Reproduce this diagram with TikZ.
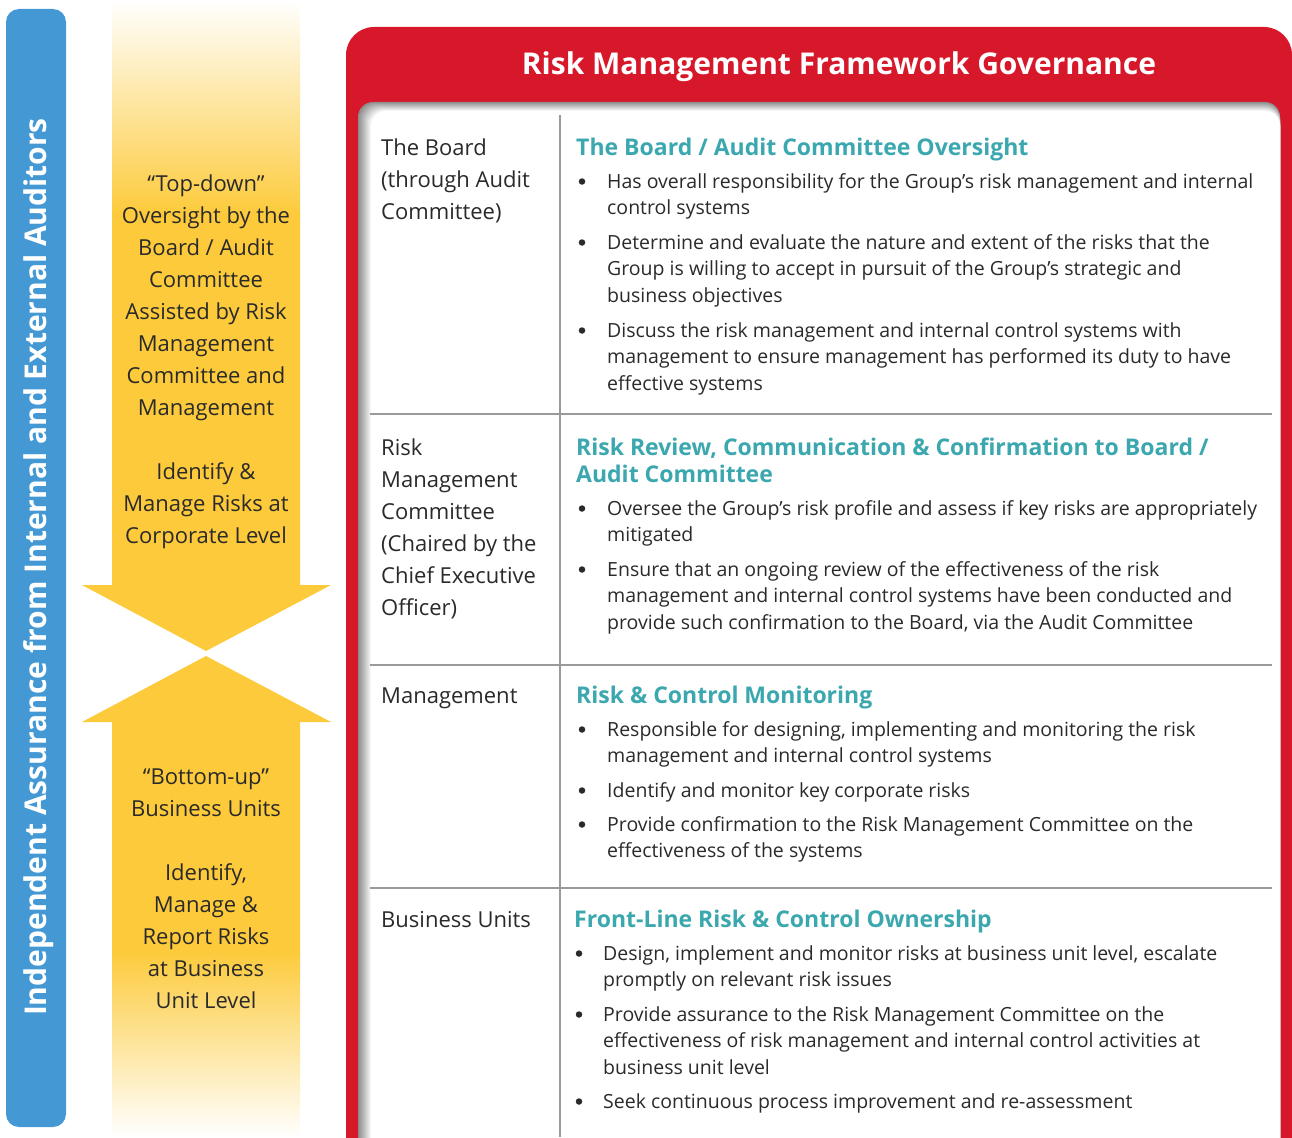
\documentclass[tikz,border=0pt]{standalone}
\usepackage{fontspec}
\setmainfont{Open Sans}
\definecolor{bluebar}{HTML}{4499D5}
\definecolor{ylw}{HTML}{FCCA3A}
\definecolor{redf}{HTML}{D7182A}
\definecolor{teal}{HTML}{3BA7AF}
\definecolor{txt}{HTML}{2A2A2A}
\definecolor{divg}{HTML}{9A9A9A}
\tikzset{
  body/.style={anchor=base west, inner sep=0pt, align=left, text=txt, font=\fontsize{19.5}{26.7}\selectfont},
  bul/.style={circle, fill=txt, inner sep=0pt, minimum size=6.5pt},
  lcol/.style={anchor=base west, inner sep=0pt, align=left, text=txt, font=\fontsize{22}{32}\selectfont},
  head/.style={anchor=base west, inner sep=0pt, align=left, text=teal, font=\fontsize{23}{27}\selectfont\bfseries},
  ytext/.style={anchor=base, inner sep=0pt, align=center, text=txt, font=\fontsize{22}{32}\selectfont},
  divline/.style={draw=divg, line width=1.6pt}
}
\begin{document}
\begin{tikzpicture}[x=1pt,y=-1pt]
\useasboundingbox (0,0) rectangle (1292,1137);
\clip (0,0) rectangle (1292,1137);
% blue bar
\fill[bluebar, rounded corners=13pt] (6,9) rectangle (66,1127);
\node[rotate=90, text=white, font=\fontsize{30}{34}\selectfont\bfseries, inner sep=0pt] (bluetxt) at (39,567) {Independent Assurance from Internal and External Auditors};
% yellow arrows
\shade[top color=white, bottom color=ylw] (112,0) rectangle (300,215);
\fill[ylw] (112,214) -- (300,214) -- (300,585) -- (331,585) -- (206,651) -- (82,585) -- (112,585) -- cycle;
\fill[ylw] (206,656) -- (331,722) -- (300,722) -- (300,951) -- (112,951) -- (112,722) -- (82,722) -- cycle;
\shade[top color=ylw, bottom color=white] (112,950) rectangle (300,1137);
% (base anchor = baseline of last line)
\node[ytext] (ytop) at (206,543) {“Top-down”\\Oversight by the\\Board / Audit\\Committee\\Assisted by Risk\\Management\\Committee and\\Management\\[32pt]Identify \&\\Manage Risks at\\Corporate Level};
\node[ytext] (ybot) at (206,1008) {“Bottom-up”\\Business Units\\[32pt]Identify,\\Manage \&\\Report Risks\\at Business\\Unit Level};
% red frame
\fill[redf, rounded corners=28pt] (346,27) rectangle (1292,1180);
\node[text=white, font=\fontsize{30}{34}\selectfont\bfseries, inner sep=0pt] (title) at (839,67) {Risk Management Framework Governance};
% inner panel with inner shadow
\foreach \i in {0,...,12}{
  \pgfmathsetmacro{\p}{45-3.75*\i}
  \fill[black!\p, rounded corners=15pt] ({358+1.1*\i},{102+0.75*\i}) rectangle (1280,1180);
}
% dividers
\draw[divline] (560,115) -- (560,1137);
\draw[divline] (370,414) -- (1272,414);
\draw[divline] (370,665) -- (1272,665);
\draw[divline] (370,888) -- (1272,888);
% left column
\node[lcol] (l1) at (381,219) {The Board\\(through Audit\\Committee)};
\node[lcol] (l2) at (381,615) {Risk\\Management\\Committee\\(Chaired by the\\Chief Executive\\Officer)};
\node[lcol] (l3) at (381,703) {Management};
\node[lcol] (l4) at (381,927) {Business Units};
% section 1
\node[head] (h1) at (576,155) {The Board / Audit Committee Oversight};
\node[bul] (b11) at (582,181.5) {};
\node[body] (t11) at (607,214.7) {Has overall responsibility for the Group’s risk management and internal\\control systems};
\node[bul] (b12) at (582,242.5) {};
\node[body] (t12) at (607,302.4) {Determine and evaluate the nature and extent of the risks that the\\Group is willing to accept in pursuit of the Group’s strategic and\\business objectives};
\node[bul] (b13) at (582,330.5) {};
\node[body] (t13) at (607,390.4) {Discuss the risk management and internal control systems with\\management to ensure management has performed its duty to have\\effective systems};
% section 2
\node[head] (h2) at (576,482) {Risk Review, Communication \& Confirmation to Board /\\Audit Committee};
\node[bul] (b21) at (582,508.5) {};
\node[body] (t21) at (607,541.7) {Oversee the Group’s risk profile and assess if key risks are appropriately\\mitigated};
\node[bul] (b22) at (582,569.5) {};
\node[body] (t22) at (607,629.4) {Ensure that an ongoing review of the effectiveness of the risk\\management and internal control systems have been conducted and\\provide such confirmation to the Board, via the Audit Committee};
% section 3
\node[head] (h3) at (576,703) {Risk \& Control Monitoring};
\node[bul] (b31) at (582,729.5) {};
\node[body] (t31) at (607,762.7) {Responsible for designing, implementing and monitoring the risk\\management and internal control systems};
\node[bul] (b32) at (582,790.5) {};
\node[body] (t32) at (607,797) {Identify and monitor key corporate risks};
\node[bul] (b33) at (582,824.5) {};
\node[body] (t33) at (607,857.7) {Provide confirmation to the Risk Management Committee on the\\effectiveness of the systems};
% section 4
\node[head] (h4) at (574,927) {Front-Line Risk \& Control Ownership};
\node[bul] (b41) at (579,953.5) {};
\node[body] (t41) at (603,986.7) {Design, implement and monitor risks at business unit level, escalate\\promptly on relevant risk issues};
\node[bul] (b42) at (579,1014.5) {};
\node[body] (t42) at (603,1074.4) {Provide assurance to the Risk Management Committee on the\\effectiveness of risk management and internal control activities at\\business unit level};
\node[bul] (b43) at (579,1101.5) {};
\node[body] (t43) at (603,1108) {Seek continuous process improvement and re-assessment};
\end{tikzpicture}
\end{document}
